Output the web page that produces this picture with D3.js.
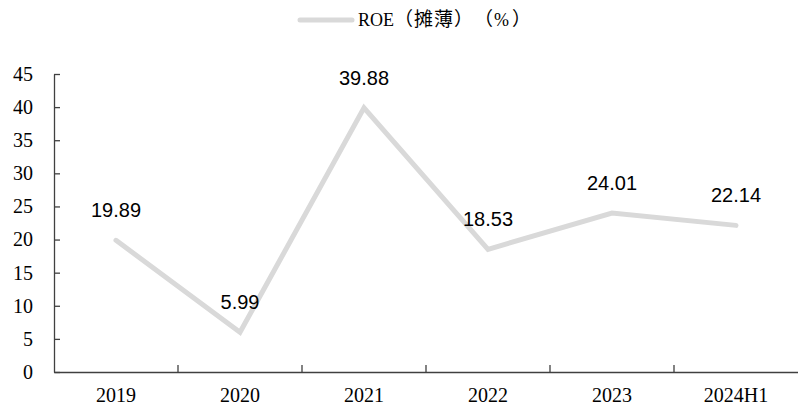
<!DOCTYPE html>
<html><head><meta charset="utf-8">
<script src="https://cdn.jsdelivr.net/npm/d3@7/dist/d3.min.js"></script>
<style>html,body{margin:0;padding:0;background:#fff;}svg{display:block;}
.legend-text{text-spacing-trim:space-all;font-feature-settings:"chws" 0,"halt" 0,"palt" 0;font-kerning:none;}</style>
</head><body>
<svg id="chart" width="798" height="407"></svg>
<script>
const categories = ["2019", "2020", "2021", "2022", "2023", "2024H1"];
const roeValues = [19.89, 5.99, 39.88, 18.53, 24.01, 22.14];
const valueLabels = ["19.89", "5.99", "39.88", "18.53", "24.01", "22.14"];
const yTicks = [0, 5, 10, 15, 20, 25, 30, 35, 40, 45];
const seriesNameParts = ["ROE", "（", "摊", "薄", "）", "（", "%", "）"];

const svg = d3.select("#chart");
const margin = {left: 54, right: 0, top: 74, bottom: 35};
const W = 798, H = 407;
const x = d3.scaleBand().domain(categories).range([margin.left, W - margin.right]);
const y = d3.scaleLinear().domain([0, 45]).range([H - margin.bottom, margin.top]);

const serif = "'Liberation Serif','Times New Roman','Noto Sans CJK SC',serif";
const cjk = "'Noto Sans CJK SC','Noto Sans CJK TC',sans-serif";
const sans = "'Liberation Sans',Arial,sans-serif";
const axisColor = "#404040";
const lineColor = "#d9d9d9";

// Y axis
const yAxis = svg.append("g").attr("transform", `translate(${margin.left},0)`)
  .call(d3.axisLeft(y).tickValues(yTicks).tickSize(-6).tickPadding(21).tickSizeOuter(0));
yAxis.select(".domain").attr("stroke", axisColor).attr("stroke-width", 1.3);
yAxis.selectAll(".tick line").attr("stroke", axisColor).attr("stroke-width", 1.3);
yAxis.selectAll("text").attr("font-family", serif).attr("font-size", 20).attr("fill", "#000");

// X axis
const xAxis = svg.append("g").attr("transform", `translate(0,${y(0)})`)
  .call(d3.axisBottom(x).tickSize(0).tickPadding(16));
xAxis.select(".domain").attr("stroke", axisColor).attr("stroke-width", 1.3);
xAxis.selectAll("text").attr("font-family", serif).attr("font-size", 20).attr("fill", "#000");
// category boundary ticks (inside)
svg.append("g").selectAll("line").data(categories.slice(1)).join("line")
  .attr("x1", d => x(d)).attr("x2", d => x(d))
  .attr("y1", y(0)).attr("y2", y(0) - 7)
  .attr("stroke", axisColor).attr("stroke-width", 1.3);

// Line
const data = categories.map((c, i) => ({c, v: roeValues[i], l: valueLabels[i]}));
const line = d3.line().x(d => x(d.c) + x.bandwidth() / 2).y(d => y(d.v));
svg.append("path").datum(data).attr("d", line)
  .attr("fill", "none").attr("stroke", lineColor).attr("stroke-width", 5)
  .attr("stroke-linejoin", "miter").attr("stroke-linecap", "round");

// Data labels
svg.append("g").selectAll("text").data(data).join("text")
  .attr("x", d => x(d.c) + x.bandwidth() / 2)
  .attr("y", d => y(d.v) - 30)
  .attr("dy", "0.35em")
  .attr("text-anchor", "middle")
  .attr("font-family", sans).attr("font-size", 20).attr("fill", "#000")
  .text(d => d.l);

// Legend
const lg = svg.append("g");
lg.append("line").attr("x1", 300).attr("x2", 352).attr("y1", 20).attr("y2", 20)
  .attr("stroke", lineColor).attr("stroke-width", 5).attr("stroke-linecap", "round");
const lt = lg.append("text").attr("class", "legend-text").attr("x", 358).attr("y", 20).attr("dy", "0.35em")
  .attr("font-family", serif).attr("font-size", 18).attr("fill", "#000");
let cursor = 358;
seriesNameParts.forEach((p) => {
  const isAscii = /^[A-Za-z%]+$/.test(p);
  const ts = lt.append("tspan").attr("x", cursor)
    .attr("font-family", isAscii ? serif : cjk)
    .attr("font-size", isAscii ? 18 : 19).text(p);
  cursor += isAscii ? ts.node().getComputedTextLength() + (p === "%" ? 3 : 0) : 20;
});
</script>
</body></html>
